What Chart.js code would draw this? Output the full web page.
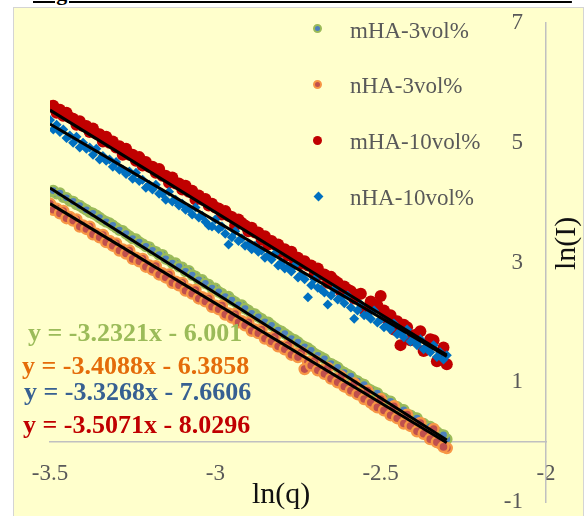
<!DOCTYPE html>
<html>
<head>
<meta charset="utf-8">
<script src="https://cdn.jsdelivr.net/npm/chart.js@4/dist/chart.umd.min.js"></script>
<style>
  html, body { margin:0; padding:0; background:#ffffff; }
  #wrap { position:relative; width:585px; height:516px; overflow:hidden; }
  #panel { position:absolute; left:13px; top:7px; width:571px; height:520px; background:#FFFFCC; border:1.5px solid #D4D4D4; box-sizing:border-box; }
  #title { position:absolute; left:33px; top:-18px; font:bold 22px "Liberation Serif", serif; line-height:22px; white-space:nowrap; text-decoration:underline; text-decoration-thickness:2px; text-underline-offset:1px; letter-spacing:1.9px; color:#000; }
  canvas { position:absolute; left:0; top:0; }
  .eq { position:absolute; font:bold 26px "Liberation Serif", serif; white-space:nowrap; line-height:26px; }
  .lg { position:absolute; font:23px "Liberation Serif", serif; color:#595959; white-space:nowrap; line-height:23px; }
  .mk { position:absolute; box-sizing:border-box; }
  .axt { position:absolute; font:30px "Liberation Serif", serif; color:#111; white-space:nowrap; line-height:30px; }
</style>
</head>
<body>
<div id="wrap">
  <div id="title">Figure 1. Work of fracture of various PEEK-HA</div>
  <div id="panel"></div>
  <canvas id="c" width="585" height="516"></canvas>

  <div class="mk" style="left:313px;top:24px;width:9px;height:9px;border-radius:50%;background:#4F81BD;border:2px solid #9BBB59;"></div>
  <div class="lg" style="left:350px;top:19px;">mHA-3vol%</div>
  <div class="mk" style="left:313px;top:80px;width:9px;height:9px;border-radius:50%;background:#C0504D;border:2px solid #F79646;"></div>
  <div class="lg" style="left:350px;top:74px;">nHA-3vol%</div>
  <div class="mk" style="left:313px;top:136px;width:9px;height:9px;border-radius:50%;background:#C00000;"></div>
  <div class="lg" style="left:350px;top:130px;">mHA-10vol%</div>
  <div class="mk" style="left:315px;top:193px;width:7px;height:7px;background:#0070C0;transform:rotate(45deg);"></div>
  <div class="lg" style="left:350px;top:186px;">nHA-10vol%</div>

  <div class="eq" style="left:28px;top:320px;color:#9BBB59;">y = -3.2321x - 6.001</div>
  <div class="eq" style="left:22px;top:353px;color:#E46C0A;">y = -3.4088x - 6.3858</div>
  <div class="eq" style="left:24px;top:379px;color:#376092;">y = -3.3268x - 7.6606</div>
  <div class="eq" style="left:23px;top:412px;color:#C00000;">y = -3.5071x - 8.0296</div>

  <div class="axt" style="left:252px;top:478px;">ln(q)</div>
  <div class="axt" style="left:550px;top:270px;transform-origin:0 0;transform:rotate(-90deg);">ln(I)</div>
</div>
<script>
// ln(q) sample positions (two interleaved sweeps shared by all series)
const lnq = [-3.50,-3.48,-3.46,-3.44,-3.42,-3.40,-3.38,-3.36,-3.34,-3.32,-3.30,-3.28,-3.26,-3.24,-3.22,-3.20,-3.18,-3.16,-3.14,-3.12,-3.10,-3.08,-3.06,-3.04,-3.02,-3.00,-2.98,-2.96,-2.94,-2.92,-2.90,-2.88,-2.86,-2.84,-2.82,-2.80,-2.78,-2.76,-2.74,-2.72,-2.70,-2.68,-2.66,-2.64,-2.62,-2.60,-2.58,-2.56,-2.54,-2.52,-2.50,-2.48,-2.46,-2.44,-2.42,-2.40,-2.38,-2.36,-2.34,-2.32,-2.30];
const lnq2 = [-3.49,-3.47,-3.45,-3.43,-3.41,-3.39,-3.37,-3.35,-3.33,-3.31,-3.29,-3.27,-3.25,-3.23,-3.21,-3.19,-3.17,-3.15,-3.13,-3.11,-3.09,-3.07,-3.05,-3.03,-3.01,-2.99,-2.97,-2.95,-2.93,-2.91,-2.89,-2.87,-2.85,-2.83,-2.81,-2.79,-2.77,-2.75,-2.73,-2.71,-2.69,-2.67,-2.65,-2.63,-2.61,-2.59,-2.57,-2.55,-2.53,-2.51,-2.49,-2.47,-2.45,-2.43,-2.41,-2.39,-2.37,-2.35,-2.33,-2.31];

// ln(I) values
const mHA3 = [4.18,4.15,4.09,4.03,3.97,3.91,3.84,3.79,3.71,3.66,3.58,3.53,3.44,3.39,3.31,3.26,3.18,3.13,3.04,2.99,2.92,2.86,2.77,2.71,2.63,2.57,2.48,2.43,2.34,2.29,2.20,2.14,2.06,2.00,1.91,1.85,1.77,1.71,1.62,1.57,1.48,1.42,1.33,1.28,1.19,1.13,1.04,0.98,0.90,0.84,0.75,0.69,0.61,0.55,0.46,0.41,0.32,0.27,0.18,0.13,0.05];
const mHA3b = [4.20,4.16,4.08,4.02,3.95,3.88,3.82,3.75,3.68,3.62,3.54,3.48,3.40,3.34,3.27,3.20,3.13,3.06,2.99,2.93,2.85,2.79,2.71,2.65,2.57,2.51,2.43,2.37,2.29,2.23,2.15,2.09,2.01,1.95,1.87,1.81,1.73,1.67,1.59,1.53,1.45,1.39,1.31,1.25,1.16,1.10,1.02,0.96,0.87,0.82,0.73,0.68,0.59,0.54,0.45,0.40,0.31,0.26,0.17,0.12];

const nHA3 = [3.98,3.90,3.86,3.76,3.72,3.62,3.60,3.48,3.46,3.36,3.32,3.22,3.20,3.08,3.06,2.95,2.94,2.82,2.80,2.68,2.66,2.55,2.54,2.42,2.40,2.28,2.28,2.15,2.14,2.02,2.00,1.88,1.88,1.74,1.76,1.60,1.62,1.48,1.50,1.34,1.36,1.20,1.24,1.06,1.10,0.92,0.98,0.80,0.86,0.62,0.72,0.52,0.60,0.40,0.46,0.26,0.32,0.12,0.22,-0.02,-0.10];
const nHA3b = [3.88,3.82,3.74,3.70,3.60,3.56,3.47,3.42,3.34,3.28,3.20,3.15,3.06,3.02,2.93,2.88,2.80,2.75,2.66,2.62,2.53,2.48,2.40,2.35,2.26,2.22,2.13,2.08,2.00,1.95,1.86,1.82,1.73,1.68,1.60,1.55,1.46,1.42,1.22,1.28,1.20,1.14,1.06,1.00,0.93,0.86,0.80,0.72,0.66,0.58,0.53,0.45,0.40,0.31,0.27,0.18,0.14,0.05,0.00,-0.08];

const mHA10 = [5.60,5.50,5.45,5.42,5.30,5.28,5.18,5.15,5.02,5.00,4.92,4.80,4.80,4.70,4.62,4.60,4.50,4.45,4.33,4.32,4.22,4.18,4.05,4.05,3.95,3.92,3.80,3.78,3.62,3.66,3.52,3.50,3.38,3.30,3.30,3.18,3.12,3.05,2.98,2.95,2.80,2.80,2.66,2.70,2.52,2.55,2.40,2.48,2.20,2.25,2.44,2.05,1.88,1.62,1.92,1.78,1.85,1.55,1.70,1.40,1.30];
const mHA10b = [5.62,5.55,5.50,5.40,5.36,5.28,5.24,5.14,5.10,5.02,4.94,4.90,4.80,4.76,4.68,4.60,4.56,4.45,4.42,4.32,4.28,4.20,4.12,4.06,3.98,3.90,3.86,3.76,3.72,3.62,3.58,3.50,3.44,3.36,3.30,3.22,3.18,3.08,3.02,2.95,2.90,2.80,2.76,2.66,2.60,2.52,2.46,2.22,2.35,2.28,2.20,2.12,2.02,1.96,1.70,1.80,1.52,1.72,1.35,1.58];

const nHA10 = [5.38,5.30,5.22,5.12,5.10,5.00,4.92,4.90,4.78,4.72,4.68,4.55,4.52,4.50,4.38,4.30,4.30,4.15,4.18,4.05,3.98,3.90,3.92,3.78,3.62,3.72,3.60,3.30,3.52,3.40,3.30,3.28,3.20,3.12,3.15,3.00,2.92,2.95,2.80,2.42,2.72,2.55,2.30,2.55,2.42,2.45,2.06,2.30,2.12,2.20,2.05,1.95,1.98,1.85,1.88,1.70,1.72,1.60,1.62,1.50,1.45];
const nHA10b = [5.22,5.18,5.08,5.00,4.92,4.90,4.80,4.72,4.70,4.60,4.55,4.48,4.40,4.36,4.25,4.22,4.15,4.05,4.02,3.95,3.88,3.80,3.75,3.68,3.60,3.56,3.48,3.42,3.36,3.28,3.22,3.18,3.08,3.05,2.95,2.90,2.85,2.75,2.72,2.62,2.58,2.50,2.45,2.38,2.32,2.25,2.20,2.12,2.06,2.00,1.92,1.88,1.80,1.75,1.68,1.62,1.55,1.50,1.42,1.38];

// linear trendlines (slope, intercept) as printed on the chart
const trendSlopes = [-3.2321, -3.4088, -3.3268, -3.5071];
const trendIntercepts = [-6.001, -6.3858, -7.6606, -8.0296];
const trendRange = [-3.5, -2.3];

const xTicks = [-3.5, -3, -2.5, -2];
const yTicks = [-1, 1, 3, 5, 7];

const pts = (xs, ys) => xs.map((x, i) => ({x, y: ys[i]}));
const both = (a, b) => pts(lnq, a).concat(pts(lnq2, b));
const trend = k => trendRange.map(x => ({x, y: trendSlopes[k] * x + trendIntercepts[k]}));

const trendSets = [0,1,2,3].map(k => ({
  type: 'line', label: 'trend' + k, data: trend(k),
  borderColor: '#000000', borderWidth: 3, pointRadius: 0, showLine: true, fill: false
}));

new Chart(document.getElementById('c'), {
  type: 'scatter',
  data: {
    datasets: [
      ...trendSets,
      { label: 'nHA-10vol%', data: both(nHA10, nHA10b), pointStyle: 'rectRot', pointRadius: 5, backgroundColor: '#0070C0', borderColor: '#0070C0', borderWidth: 0 },
      { label: 'mHA-10vol%', data: both(mHA10, mHA10b), pointStyle: 'circle', pointRadius: 6, backgroundColor: '#C00000', borderColor: '#C00000', borderWidth: 0 },
      { label: 'nHA-3vol%', data: both(nHA3, nHA3b), pointStyle: 'circle', pointRadius: 5, backgroundColor: '#C0504D', borderColor: '#F79646', borderWidth: 2.4 },
      { label: 'mHA-3vol%', data: both(mHA3, mHA3b), pointStyle: 'circle', pointRadius: 4.6, backgroundColor: '#4F81BD', borderColor: '#9BBB59', borderWidth: 2.4 }
    ]
  },
  options: {
    responsive: false,
    animation: false,
    layout: { padding: { left: 50, right: 39, top: 23, bottom: 14 } },
    plugins: { legend: { display: false }, tooltip: { enabled: false } },
    scales: {
      x: {
        type: 'linear', min: -3.5, max: -2, position: { y: 0 },
        afterBuildTicks: s => { s.ticks = xTicks.map(v => ({value: v})); },
        grid: { display: false, drawTicks: false },
        border: { display: true, color: '#C0C0C0', width: 1.5 },
        ticks: { padding: 18, color: '#595959', font: { family: 'Liberation Serif', size: 23 }, callback: v => String(v) }
      },
      y: {
        type: 'linear', min: -1, max: 7, position: 'right',
        afterBuildTicks: s => { s.ticks = yTicks.map(v => ({value: v})); },
        afterFit: s => { s.width = 0; },
        grid: { display: false, drawTicks: false },
        border: { display: true, color: '#C0C0C0', width: 1.5 },
        ticks: { mirror: true, padding: -23, color: '#595959', font: { family: 'Liberation Serif', size: 23 }, callback: v => String(v) }
      }
    }
  }
});
</script>
</body>
</html>
